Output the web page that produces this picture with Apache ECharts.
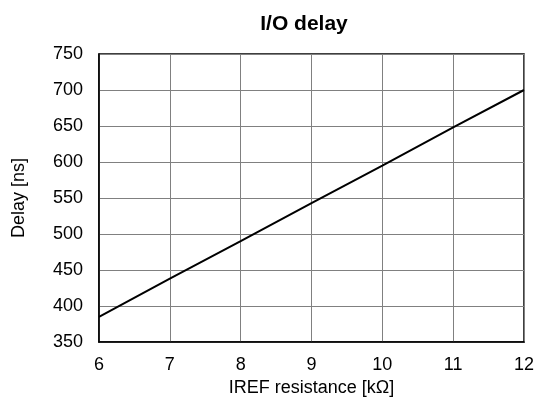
<!DOCTYPE html>
<html>
<head>
<meta charset="utf-8">
<script src="https://cdn.jsdelivr.net/npm/echarts@6/dist/echarts.min.js"></script>
<style>
  html, body { margin: 0; padding: 0; background: #fff; }
  #chart { width: 539px; height: 405px; }
</style>
</head>
<body>
<div id="chart"></div>
<script>
// resistance in kΩ, delay in ns
var resistance = [6, 7, 8, 9, 10, 11, 12];
var delay = [385, 438, 490, 543, 595, 648, 700];

var chart = echarts.init(document.getElementById("chart"));
var font = "Liberation Sans, Arial, sans-serif";

var option = {
  animation: false,
  title: {
    text: "I/O delay",
    left: 299,
    textAlign: "center",
    top: 9,
    textStyle: { fontFamily: font, fontSize: 21, fontWeight: "bold", color: "#000" }
  },
  grid: {
    left: 99, right: 15, top: 54, bottom: 63,
    show: true, borderColor: "#000", borderWidth: 1.5
  },
  xAxis: {
    type: "value",
    min: 6, max: 12, interval: 1,
    name: "IREF resistance [kΩ]",
    nameLocation: "middle",
    nameGap: 35,
    nameTextStyle: { fontFamily: font, fontSize: 18, color: "#000" },
    axisLine: { lineStyle: { color: "#000", width: 1.5 } },
    axisTick: { show: false },
    axisLabel: { fontFamily: font, fontSize: 18, color: "#000", margin: 14 },
    splitLine: { lineStyle: { color: "#808080", width: 1 } }
  },
  yAxis: {
    type: "value",
    min: 350, max: 750, interval: 50,
    name: "Delay [ns]",
    nameLocation: "middle",
    nameGap: 71,
    nameTextStyle: { fontFamily: font, fontSize: 18, color: "#000" },
    axisLine: { show: true, lineStyle: { color: "#000", width: 1.5 } },
    axisTick: { show: false },
    axisLabel: { fontFamily: font, fontSize: 18, color: "#000", margin: 16 },
    splitLine: { lineStyle: { color: "#808080", width: 1 } }
  },
  series: [{
    type: "line",
    data: resistance.map(function (r, i) { return [r, delay[i]]; }),
    symbol: "none",
    lineStyle: { color: "#000", width: 2 }
  }]
};

chart.setOption(option);
</script>
</body>
</html>
